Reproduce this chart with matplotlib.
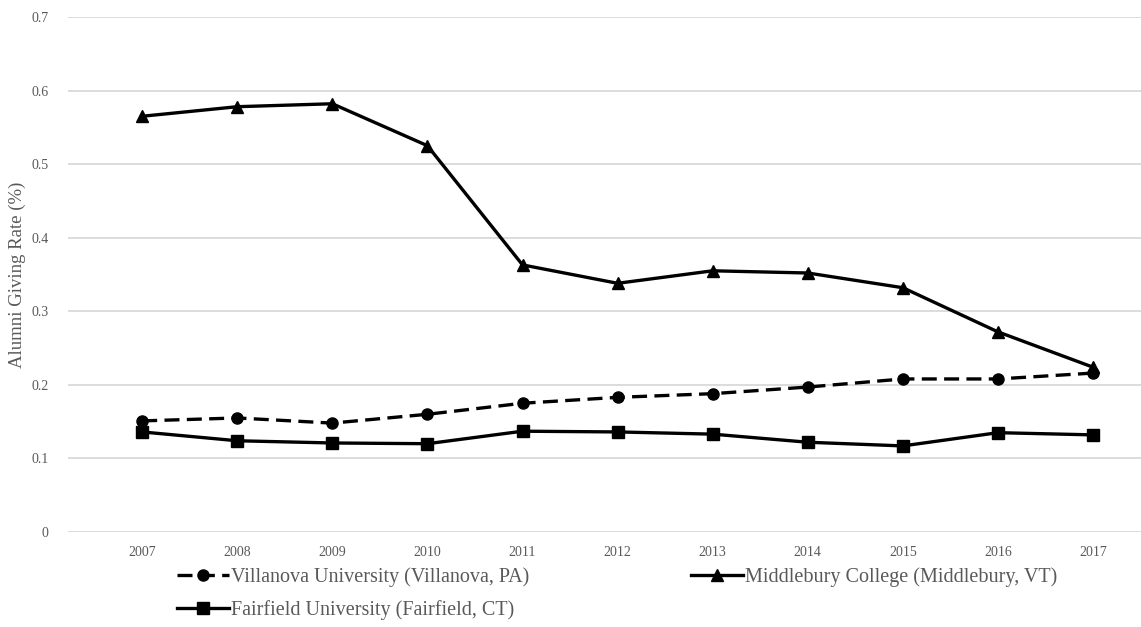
import matplotlib
matplotlib.use("Agg")
import matplotlib.pyplot as plt

years = [2007, 2008, 2009, 2010, 2011, 2012, 2013, 2014, 2015, 2016, 2017]
villanova = [0.151, 0.155, 0.148, 0.160, 0.175, 0.183, 0.188, 0.197, 0.208, 0.208, 0.216]
middlebury = [0.565, 0.578, 0.582, 0.525, 0.363, 0.338, 0.355, 0.352, 0.332, 0.272, 0.224]
fairfield = [0.136, 0.124, 0.121, 0.120, 0.137, 0.136, 0.133, 0.122, 0.117, 0.135, 0.132]
y_ticks = [0, 0.1, 0.2, 0.3, 0.4, 0.5, 0.6, 0.7]

plt.rcParams['font.family'] = ['Liberation Serif', 'DejaVu Serif']
gray = '#595959'

fig = plt.figure(figsize=(11.41, 6.27), dpi=100)
ax = fig.add_axes([0.0596, 0.1515, 0.94, 0.8215])

l1, = ax.plot(years, villanova, color='black', lw=2.4, ls=(0, (4.5, 2.2)),
              marker='o', ms=8)
l2, = ax.plot(years, middlebury, color='black', lw=2.4, marker='^', ms=9)
l3, = ax.plot(years, fairfield, color='black', lw=2.4, marker='s', ms=8)

ax.set_ylim(0, 0.7)
ax.set_xlim(2006.22, 2017.5)
ax.set_yticks(y_ticks)
ax.set_yticklabels(['0'] + ['%.1f' % v for v in y_ticks[1:]])
ax.set_xticks(years)
ax.grid(axis='y', color='#d9d9d9', lw=1.3)
ax.set_axisbelow(True)
for s in ax.spines.values():
    s.set_visible(False)
ax.tick_params(length=0, labelsize=10, colors=gray, pad=10)
ax.tick_params(axis='y', pad=14)
ax.set_ylabel('Alumni Giving Rate (%)', fontsize=13.5, color=gray, labelpad=4)

# column-first fill: Villanova/Fairfield in column 1, Middlebury in column 2
fig.legend([l1, l3, l2],
           ['Villanova University (Villanova, PA)',
            'Fairfield University (Fairfield, CT)',
            'Middlebury College (Middlebury, VT)'],
           ncol=2, loc='upper left', bbox_to_anchor=(0.155, 0.095),
           frameon=False, fontsize=14.5, labelcolor=gray, handlelength=2.6,
           handletextpad=0.1, columnspacing=8.0, labelspacing=0.65,
           borderaxespad=0, borderpad=0)

fig.savefig('out.png', dpi=100)
